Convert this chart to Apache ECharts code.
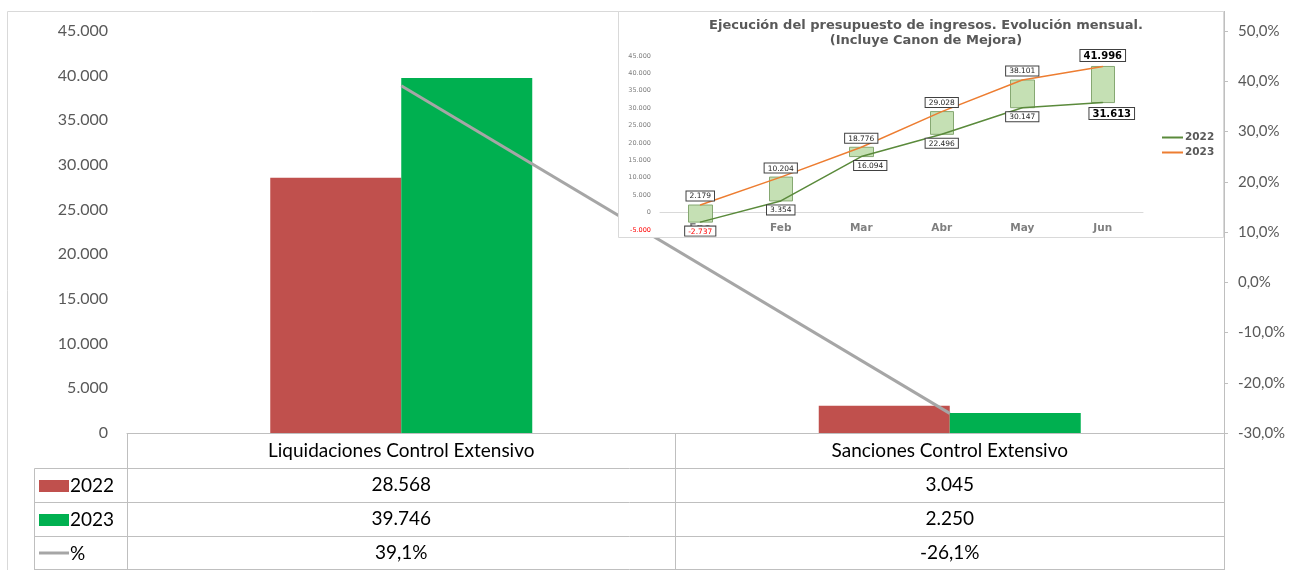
<!DOCTYPE html>
<html>
<head>
<meta charset="utf-8">
<script src="https://cdn.jsdelivr.net/npm/echarts@6/dist/echarts.min.js"></script>
<style>
  html, body { margin: 0; padding: 0; background: #fff; }
  #chart { width: 1293px; height: 570px; }
</style>
</head>
<body>
<div id="chart"></div>
<script>
// datos del gráfico principal
var categories = ['Liquidaciones Control Extensivo', 'Sanciones Control Extensivo'];
var values2022 = [28568, 3045];
var values2023 = [39746, 2250];
var pctChange = [39.1, -26.1];
var rowNames = ['2022', '2023', '%'];

// datos del gráfico insertado (evolución mensual)
var months = ['Ene', 'Feb', 'Mar', 'Abr', 'May', 'Jun'];
var monthly2022 = [-2737, 3354, 16094, 22496, 30147, 31613];
var monthly2023 = [2179, 10204, 18776, 29028, 38101, 41996];

var FONT = 'Lato, "Noto Sans", sans-serif';
var FONT_IN = '"DejaVu Sans", Verdana, sans-serif';

function fmt(v) {
  var s = Math.abs(Math.round(v)).toString().replace(/\B(?=(\d{3})+(?!\d))/g, '.');
  return (v < 0 ? '-' : '') + s;
}
function fmtPct(v) {
  return v.toFixed(1).replace('.', ',') + '%';
}

var chart = echarts.init(document.getElementById('chart'));

// etiquetas con recuadro del gráfico insertado
function boxLabel(pos, v, isLast) {
  var lab = {
    show: true,
    position: pos,
    distance: 4,
    formatter: function (p) { return fmt(p.value); },
    fontSize: 7.5,
    fontFamily: FONT_IN,
    color: v < 0 ? '#ff0000' : '#262626',
    backgroundColor: '#fff',
    borderColor: '#404040',
    borderWidth: 1,
    padding: [1, 3, 0, 3]
  };
  if (isLast) {
    lab.fontSize = 10;
    lab.fontWeight = 'bold';
    lab.color = '#000';
    lab.distance = 5;
  }
  return lab;
}

var inset2022 = monthly2022.map(function (v, i) {
  var lab = boxLabel('bottom', v, i === months.length - 1);
  if (i === 2 || i === 5) lab.offset = [9, 0];
  return { value: v, label: lab };
});
var inset2023 = monthly2023.map(function (v, i) {
  return { value: v, label: boxLabel('top', v, i === months.length - 1) };
});
var upDown = months.map(function (m, i) {
  var a = monthly2022[i], b = monthly2023[i];
  return [a, b, Math.min(a, b), Math.max(a, b)];
});

// tabla de datos bajo el eje
var gLine = { stroke: '#bfbfbf', lineWidth: 1 };
var graphics = [
  { type: 'line', shape: { x1: 7.5, y1: 11.5, x2: 1224.5, y2: 11.5 }, style: { stroke: '#d9d9d9' } },
  { type: 'line', shape: { x1: 7.5, y1: 11.5, x2: 7.5, y2: 570 }, style: { stroke: '#d9d9d9' } },
  { type: 'line', shape: { x1: 1224.5, y1: 11, x2: 1224.5, y2: 570 }, style: gLine },
  { type: 'line', shape: { x1: 127.5, y1: 433, x2: 127.5, y2: 570 }, style: gLine },
  { type: 'line', shape: { x1: 675.5, y1: 433, x2: 675.5, y2: 570 }, style: gLine },
  { type: 'line', shape: { x1: 34.5, y1: 468.5, x2: 34.5, y2: 570 }, style: gLine },
  { type: 'line', shape: { x1: 34.5, y1: 468.5, x2: 1224.5, y2: 468.5 }, style: gLine },
  { type: 'line', shape: { x1: 34.5, y1: 502.5, x2: 1224.5, y2: 502.5 }, style: gLine },
  { type: 'line', shape: { x1: 34.5, y1: 536.5, x2: 1224.5, y2: 536.5 }, style: gLine },
  { type: 'line', shape: { x1: 34.5, y1: 569.5, x2: 1224.5, y2: 569.5 }, style: gLine },
  { type: 'rect', shape: { x: 39, y: 480, width: 30, height: 12 }, style: { fill: '#C0504D' } },
  { type: 'rect', shape: { x: 39, y: 514, width: 30, height: 12 }, style: { fill: '#00B050' } },
  { type: 'line', shape: { x1: 39, y1: 553, x2: 69, y2: 553 }, style: { stroke: '#A6A6A6', lineWidth: 3 } },
  // fondo del gráfico insertado (tapa la línea del %)
  { type: 'rect', z: 50, shape: { x: 618.5, y: 11.5, width: 605, height: 226 },
    style: { fill: '#fff', stroke: '#d9d9d9', lineWidth: 1 } }
];
rowNames.forEach(function (name, i) {
  graphics.push({
    type: 'text',
    style: {
      text: name, x: 70, y: 485.5 + i * 34, verticalAlign: 'middle',
      fontSize: 19, fontFamily: FONT, fill: '#000'
    }
  });
});

var option = {
  animation: false,
  textStyle: { fontFamily: FONT },
  title: {
    text: 'Ejecución del presupuesto de ingresos. Evolución mensual.\n(Incluye Canon de Mejora)',
    left: 921,
    top: 13,
    textAlign: 'center',
    z: 60,
    textStyle: { fontSize: 13, fontWeight: 'bold', color: '#595959', lineHeight: 15, fontFamily: FONT_IN }
  },
  legend: {
    data: ['2022', '2023'],
    orient: 'vertical',
    left: 1157,
    top: 127,
    icon: 'rect',
    itemWidth: 21,
    itemHeight: 2,
    itemGap: 4,
    selectedMode: false,
    z: 60,
    textStyle: { fontSize: 10.5, fontWeight: 'bold', color: '#595959', fontFamily: FONT_IN, padding: [0, 0, 0, -3] }
  },
  grid: [
    { left: 127, right: 69, top: 31, bottom: 137 },
    { left: 660, right: 150, top: 56, bottom: 340 }
  ],
  xAxis: [
    {
      type: 'category',
      gridIndex: 0,
      data: categories,
      axisLine: { lineStyle: { color: '#bfbfbf' } },
      axisTick: { show: false },
      axisLabel: {
        interval: 0,
        margin: 1,
        fontSize: 19,
        lineHeight: 34,
        color: '#000',
        formatter: function (val, i) {
          return [val, fmt(values2022[i]), fmt(values2023[i]), fmtPct(pctChange[i])].join('\n');
        }
      }
    },
    {
      type: 'category',
      gridIndex: 1,
      data: months,
      z: 60,
      axisLine: { onZero: true, lineStyle: { color: '#d9d9d9' } },
      axisTick: { show: false },
      axisLabel: { margin: -7, fontSize: 10.5, fontWeight: 'bold', color: '#7f7f7f', fontFamily: FONT_IN }
    }
  ],
  yAxis: [
    {
      type: 'value',
      gridIndex: 0,
      min: 0,
      max: 45000,
      interval: 5000,
      splitLine: { show: false },
      axisLine: { show: false },
      axisTick: { show: false },
      axisLabel: { margin: 19, fontSize: 16, color: '#595959', formatter: fmt }
    },
    {
      type: 'value',
      gridIndex: 0,
      position: 'right',
      min: -30,
      max: 50,
      interval: 10,
      splitLine: { show: false },
      axisLine: { show: true, lineStyle: { color: '#bfbfbf' } },
      axisTick: { show: true, length: 4, lineStyle: { color: '#bfbfbf' } },
      axisLabel: { margin: 14, fontSize: 15, color: '#595959', formatter: fmtPct }
    },
    {
      type: 'value',
      gridIndex: 1,
      min: -5000,
      max: 45000,
      interval: 5000,
      z: 60,
      splitLine: { show: false },
      axisLine: { show: false },
      axisTick: { show: false },
      axisLabel: {
        margin: 9,
        fontSize: 6.5,
        fontFamily: FONT_IN,
        formatter: fmt,
        color: function (v) { return Number(v) < 0 ? '#ff0000' : '#7f7f7f'; }
      }
    }
  ],
  graphic: graphics,
  series: [
    {
      name: 'total 2022',
      type: 'bar',
      xAxisIndex: 0,
      yAxisIndex: 0,
      data: values2022,
      barWidth: 131,
      barGap: '0%',
      itemStyle: { color: '#C0504D' }
    },
    {
      name: 'total 2023',
      type: 'bar',
      xAxisIndex: 0,
      yAxisIndex: 0,
      data: values2023,
      barWidth: 131,
      barGap: '0%',
      itemStyle: { color: '#00B050' }
    },
    {
      name: 'variación %',
      type: 'line',
      xAxisIndex: 0,
      yAxisIndex: 1,
      data: pctChange,
      symbol: 'none',
      lineStyle: { color: '#A6A6A6', width: 3 },
      itemStyle: { color: '#A6A6A6' }
    },
    {
      name: 'barras',
      type: 'candlestick',
      xAxisIndex: 1,
      yAxisIndex: 2,
      data: upDown,
      barWidth: 24,
      z: 60,
      itemStyle: {
        color: '#C5E0B4', color0: '#C5E0B4',
        borderColor: '#86A872', borderColor0: '#86A872', borderWidth: 1
      }
    },
    {
      name: '2022',
      type: 'line',
      xAxisIndex: 1,
      yAxisIndex: 2,
      data: inset2022,
      z: 61,
      symbol: 'circle',
      symbolSize: 1,
      lineStyle: { color: '#5A8A3B', width: 1.5 },
      itemStyle: { color: '#5A8A3B' }
    },
    {
      name: '2023',
      type: 'line',
      xAxisIndex: 1,
      yAxisIndex: 2,
      data: inset2023,
      z: 61,
      symbol: 'circle',
      symbolSize: 1,
      lineStyle: { color: '#ED7D31', width: 1.5 },
      itemStyle: { color: '#ED7D31' }
    }
  ]
};

chart.setOption(option);
</script>
</body>
</html>
